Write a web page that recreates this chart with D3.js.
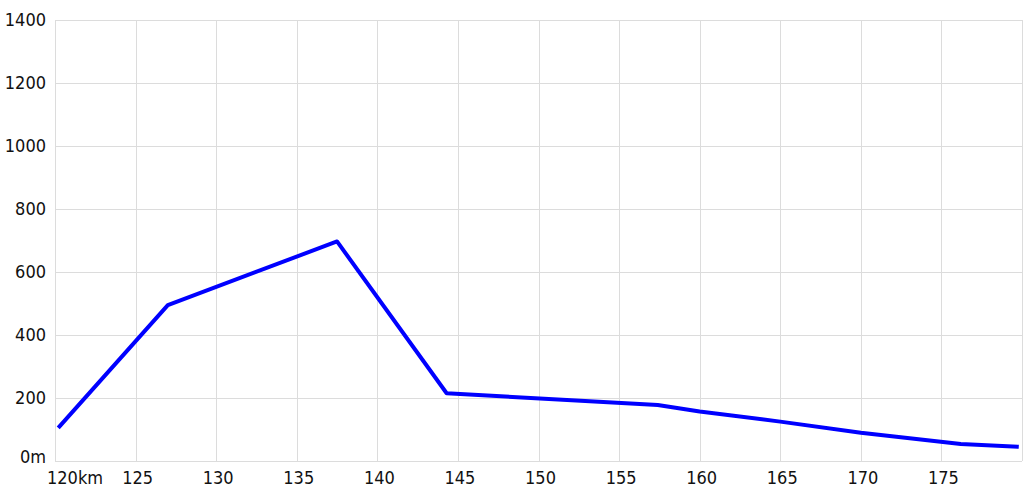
<!DOCTYPE html>
<html>
<head>
<meta charset="utf-8">
<script src="https://cdn.jsdelivr.net/npm/d3@7"></script>
<style>
	body { margin: 0; background: #fff; }
	svg text { font-family: "DejaVu Sans Condensed", "DejaVu Sans", sans-serif; font-size: 18px; fill: #111; }
</style>
</head>
<body>
<svg id="profile"></svg>
<script>
const distanceKm = [120.2, 127.0, 137.5, 144.3, 157.4, 160, 165, 170, 176.2, 179.8];
const elevationM = [105, 495, 697, 215, 178, 157, 125, 90, 54, 45];
const xTicks = [120, 125, 130, 135, 140, 145, 150, 155, 160, 165, 170, 175, 180];
const yTicks = [0, 200, 400, 600, 800, 1000, 1200, 1400];

const width = 1024;
const height = 495;
const margin = { top: 20, right: 2, bottom: 34, left: 55 };

const svg = d3.select("#profile")
	.attr("width", width)
	.attr("height", height);

const x = d3.scaleLinear()
	.domain([120, 180])
	.range([margin.left, width - margin.right]);

const y = d3.scaleLinear()
	.domain([0, 1400])
	.range([height - margin.bottom, margin.top]);

// grid
svg.append("g")
	.selectAll("line")
	.data(xTicks)
	.enter().append("line")
	.attr("x1", d => Math.round(x(d)) + 0.5)
	.attr("x2", d => Math.round(x(d)) + 0.5)
	.attr("y1", y(1400))
	.attr("y2", y(0))
	.attr("stroke", "#dcdcdc")
	.attr("stroke-width", 1);

svg.append("g")
	.selectAll("line")
	.data(yTicks)
	.enter().append("line")
	.attr("x1", x(120))
	.attr("x2", x(180))
	.attr("y1", d => Math.round(y(d)) + 0.5)
	.attr("y2", d => Math.round(y(d)) + 0.5)
	.attr("stroke", "#dcdcdc")
	.attr("stroke-width", 1);

// y labels
svg.append("g")
	.selectAll("text")
	.data(yTicks)
	.enter().append("text")
	.attr("x", margin.left - 9)
	.attr("y", d => d === 0 ? y(d) - 4 : y(d))
	.attr("dy", "0.35em")
	.attr("text-anchor", "end")
	.text(d => d === 0 ? "0m" : d);

// x labels
svg.append("g")
	.selectAll("text")
	.data(xTicks.slice(0, -1))
	.enter().append("text")
	.attr("x", d => d === 120 ? x(d) - 8 : x(d) + 2)
	.attr("y", 478)
	.attr("dy", "0.35em")
	.attr("text-anchor", d => d === 120 ? "start" : "middle")
	.text(d => d === 120 ? "120km" : d);

const points = distanceKm.map((d, i) => ({ km: d, m: elevationM[i] }));

const line = d3.line()
	.x(d => x(d.km))
	.y(d => y(d.m));

svg.append("path")
	.datum(points)
	.attr("d", line)
	.attr("fill", "none")
	.attr("stroke", "#0000ff")
	.attr("stroke-width", 4)
	.attr("stroke-linejoin", "round");
</script>
</body>
</html>
